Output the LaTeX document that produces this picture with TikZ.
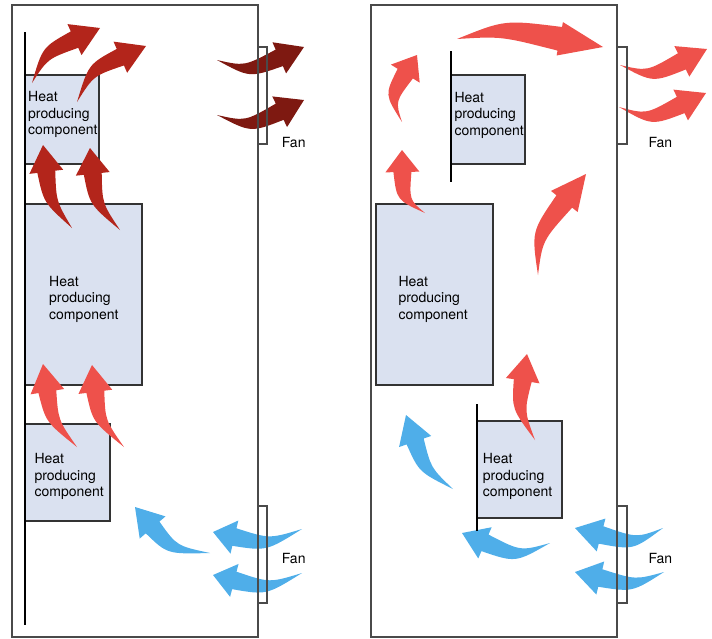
\documentclass[tikz,border=0pt]{standalone}
\usepackage{fontspec}
\setmainfont{TeX Gyre Heros}
\usepackage{tikz}
\usetikzlibrary{calc}

\definecolor{heatdark}{HTML}{B3251B}
\definecolor{heatdeep}{HTML}{7E1911}
\definecolor{heatlight}{HTML}{EE514B}
\definecolor{coolblue}{HTML}{4FAEE9}
\definecolor{compfill}{HTML}{DAE1F0}
\definecolor{casegray}{HTML}{4A4A4A}

% tapered curved air arrow: colour, tail, bend, tip, head length, body half width
\newcommand{\airflow}[6]{%
  \pgfmathsetmacro{\halfbody}{#6*0.7}
  \coordinate (fb) at ($(#4)!#5pt!(#3)$);
  \coordinate (fbl) at ($(fb)!#6pt!90:(#3)$);
  \coordinate (fbr) at ($(fb)!#6pt!-90:(#3)$);
  \coordinate (fhl) at ($(fb)!17pt!90:(#3)$);
  \coordinate (fhr) at ($(fb)!17pt!-90:(#3)$);
  \coordinate (fcl) at ($(#3)!\halfbody pt!-90:(fb)$);
  \coordinate (fcr) at ($(#3)!\halfbody pt!90:(fb)$);
  \fill[#1] (#2) .. controls (fcl) .. (fbl) -- (fhl) -- (#4) -- (fhr) -- (fbr)
    .. controls (fcr) .. (#2) -- cycle;
}

\begin{document}
\begin{tikzpicture}[
    x=1pt, y=-1pt,
    component/.style={draw=black!80, fill=compfill, line width=1.4pt},
    label/.style={inner sep=0pt, anchor=north west, align=left,
        font=\fontsize{14}{16.5}\selectfont},
    casing/.style={draw=casegray, line width=1.3pt},
    baffle/.style={draw=black, line width=2pt},
    fan/.style={draw=casegray, line width=1.3pt}
]
\useasboundingbox (0,0) rectangle (712,638);

% Left cabinet - components
\draw[component] (25,75) rectangle (99,164);
\draw[component] (25,204) rectangle (142,385);
\draw[component] (25,424) rectangle (110,521);
\node[label] (heatL1) at (28,91.5) {Heat\\producing\\component};
\node[label] (heatL2) at (49,276) {Heat\\producing\\component};
\node[label] (heatL3) at (34.3,453.3) {Heat\\producing\\component};

% Left cabinet - air flow
\airflow{heatdark}{32,83}{45,53}{100,28}{28}{9}
\airflow{heatdark}{77,102}{91,70}{146,46}{28}{9}
\airflow{heatdark}{72,228}{50,202}{43,145}{27}{9}
\airflow{heatdark}{120,230}{96,204}{90,148}{26}{9}
\airflow{heatdeep}{217,60}{247,72}{304,47}{27}{9}
\airflow{heatdeep}{217,115}{248,127}{304,100}{27}{9}
\airflow{heatlight}{77,447}{52,421}{43,364}{28}{9}
\airflow{heatlight}{124,447}{99,421}{92,365}{27}{9}
\airflow{coolblue}{210,553}{172,550}{135,507}{27}{9}
\airflow{coolblue}{302,529}{268,545}{213,532}{22}{9}
\airflow{coolblue}{302,573}{268,589}{213,575}{22}{9}

% Left cabinet - casing and fans
\draw[casing] (12,5) rectangle (258,637);
\draw[baffle] (25,32) -- (25,625);
\draw[fan] (258,47) rectangle (267,144);
\draw[fan] (258,506) rectangle (267,603);
\node[label] (fanL1) at (281.7,136.7) {Fan};
\node[label] (fanL2) at (281.7,553.3) {Fan};

% Right cabinet - components
\draw[component] (451,75) rectangle (525,164);
\draw[component] (376,204) rectangle (493,385);
\draw[component] (477,421) rectangle (562,518);
\node[label] (heatR1) at (454.3,91.7) {Heat\\producing\\component};
\node[label] (heatR2) at (398.3,276) {Heat\\producing\\component};
\node[label] (heatR3) at (482.7,453.3) {Heat\\producing\\component};

% Right cabinet - air flow
\airflow{heatlight}{457,39}{503,28}{603,47}{44}{12}
\airflow{heatlight}{402,122}{390,98}{417,55}{22}{9}
\airflow{heatlight}{425,213}{403,200}{402,150}{22}{9}
\airflow{heatlight}{538,275}{537,236}{586,174}{35}{10}
\airflow{heatlight}{535,440}{518,410}{527,354}{27}{9}
\airflow{heatlight}{620,65}{650,77}{707,49}{28}{9}
\airflow{heatlight}{619,107}{649,120}{706,93}{28}{9}
\airflow{coolblue}{453,489}{425,470}{406,415}{28}{9}
\airflow{coolblue}{550,543}{518,557}{462,533}{25}{9}
\airflow{coolblue}{663,528}{635,544}{575,528}{27}{9}
\airflow{coolblue}{664,572}{634,586}{575,572}{26}{9}

% Right cabinet - casing and fans
\draw[casing] (371,5) rectangle (617,637);
\draw[baffle] (451,51) -- (451,182);
\draw[baffle] (477,404) -- (477,531);
\draw[fan] (617,47) rectangle (627,144);
\draw[fan] (617,506) rectangle (627,603);
\node[label] (fanR1) at (648.3,136.7) {Fan};
\node[label] (fanR2) at (648.3,553.3) {Fan};

\end{tikzpicture}
\end{document}
